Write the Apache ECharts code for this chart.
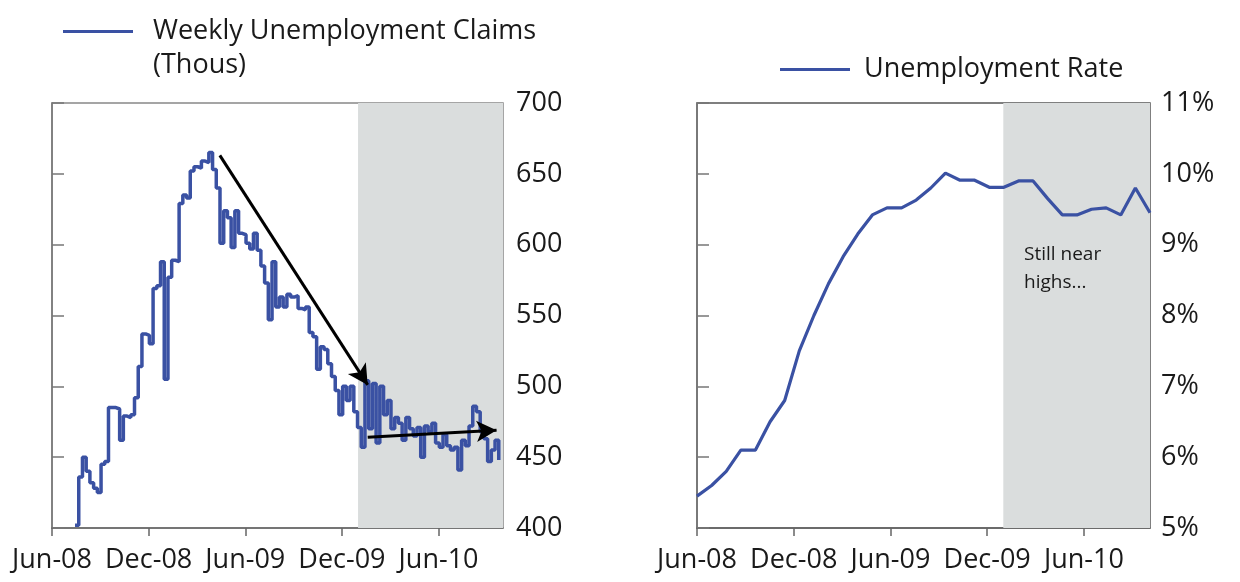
<!DOCTYPE html>
<html>
<head>
<meta charset="utf-8">
<script src="https://cdn.jsdelivr.net/npm/echarts@6/dist/echarts.min.js"></script>
<style>
html,body{margin:0;padding:0;background:#fff;}
#c{width:1240px;height:582px;}
</style>
</head>
<body>
<div id="c"></div>
<script>
// X axis: months since Jun-08
const tickLabels = ['Jun-08', 'Dec-08', 'Jun-09', 'Dec-09', 'Jun-10'];
const tickMonths = [0, 6, 12, 18, 24];
const axisMaxMonth = 28;
const shadeStartMonth = 19; // Jan-10

// Weekly unemployment claims (thousands), weekly from mid-Jul-08
const claimsStartMonth = 1.43;
const claimsWeekStep = 12 / 52;
const claims = [
  402, 436, 450, 440, 432, 428, 425, 445, 447, 485,
  485, 484, 462, 479, 478, 480, 492, 514, 537, 536,
  530, 569, 571, 588, 505, 577, 589, 588, 629, 635,
  633, 652, 655, 654, 659, 658, 665, 653, 640, 601,
  624, 619, 598, 624, 608, 607, 601, 597, 608, 596,
  585, 573, 547, 588, 556, 563, 556, 565, 563, 564,
  555, 554, 556, 538, 535, 512, 528, 526, 516, 507,
  497, 480, 500, 490, 500, 482, 471, 457, 504, 470,
  502, 460, 500, 480, 490, 470, 478, 474, 462, 478,
  470, 465, 471, 450, 472, 468, 474, 460, 457, 466,
  458, 455, 457, 441, 462, 458, 472, 486, 482, 468,
  463, 447, 455, 462, 448
];

// Unemployment rate (%), monthly
const rateSpanMonths = 28.1;
const rate = [
  5.45, 5.6, 5.8, 6.1, 6.1, 6.5, 6.8, 7.5, 8.0, 8.45,
  8.83, 9.15, 9.42, 9.52, 9.52, 9.63, 9.8, 10.01, 9.91, 9.91,
  9.81, 9.81, 9.9, 9.9, 9.65, 9.42, 9.42, 9.5, 9.52, 9.42,
  9.8, 9.45
];

// Arrow annotations on the claims chart: [month, value]
const arrowDown = [[10.42, 663], [19.6, 501]];
const arrowFlat = [[19.6, 464], [27.6, 469]];

const claimsData = claims.map((v, i) => [claimsStartMonth + i * claimsWeekStep, v]);
const rateStep = rateSpanMonths / (rate.length - 1);
const rateData = rate.map((v, i) => [i * rateStep, v]);

const FONT = 'Open Sans';
const TXT = '#1a1a1a';
const BLUE = '#3A51A3';

function xAxisCfg(gridIndex, max) {
  return {
    type: 'value', gridIndex, min: 0, max: max,
    axisLine: { show: true, lineStyle: { color: '#666', width: 1.5 } },
    axisTick: { show: true, customValues: tickMonths, length: 8, lineStyle: { color: '#666', width: 1.5 } },
    axisLabel: {
      customValues: tickMonths,
      formatter: v => tickLabels[tickMonths.indexOf(Math.round(v))] || '',
      fontFamily: FONT, fontSize: 27, color: TXT, margin: 19
    },
    splitLine: { show: false }
  };
}

const option = {
  animation: false,
  backgroundColor: '#fff',
  title: [
    { text: '(Thous)', left: 148, top: 47, textStyle: { fontFamily: FONT, fontSize: 27, fontWeight: 'normal', color: TXT } },
    { text: 'Still near\nhighs...', left: 1019, top: 236, textStyle: { fontFamily: FONT, fontSize: 19, fontWeight: 'normal', color: TXT, lineHeight: 28 } }
  ],
  legend: [
    {
      data: ['Weekly Unemployment Claims'], left: 58, top: 13, icon: 'rect', itemWidth: 70, itemHeight: 3,
      textStyle: { fontFamily: FONT, fontSize: 27, color: TXT, padding: [0, 0, 0, 15] }
    },
    {
      data: ['Unemployment Rate'], left: 775, top: 51, icon: 'rect', itemWidth: 70, itemHeight: 3,
      textStyle: { fontFamily: FONT, fontSize: 27, color: TXT, padding: [0, 0, 0, 9] }
    }
  ],
  grid: [
    { left: 52, right: 737, top: 103, bottom: 54, show: true, borderColor: '#888', borderWidth: 1.5 },
    { left: 697, right: 90, top: 103, bottom: 54, show: true, borderColor: '#555', borderWidth: 1.5 }
  ],
  xAxis: [xAxisCfg(0, axisMaxMonth), xAxisCfg(1, rateSpanMonths)],
  yAxis: [
    {
      type: 'value', gridIndex: 0, position: 'right', min: 400, max: 700, interval: 50,
      axisLine: { show: true, lineStyle: { color: '#777', width: 1.5 } },
      axisTick: { show: true, inside: false, length: 12, lineStyle: { color: '#777', width: 1.5 } },
      axisLabel: { fontFamily: FONT, fontSize: 27, color: TXT, margin: 13 },
      splitLine: { show: false }
    },
    {
      type: 'value', gridIndex: 1, position: 'right', min: 5, max: 11, interval: 1,
      axisLine: { show: true, lineStyle: { color: '#777', width: 1.5 } },
      axisTick: { show: true, inside: false, length: 12, lineStyle: { color: '#777', width: 1.5 } },
      axisLabel: { fontFamily: FONT, fontSize: 27, color: TXT, margin: 11, formatter: '{value}%' },
      splitLine: { show: false }
    }
  ],
  series: [
    {
      name: 'Weekly Unemployment Claims', type: 'line', xAxisIndex: 0, yAxisIndex: 0,
      data: claimsData, step: 'end', showSymbol: false, color: BLUE,
      lineStyle: { color: BLUE, width: 3.5 },
      markArea: {
        silent: true, itemStyle: { color: '#DADDDD' },
        data: [[{ xAxis: shadeStartMonth }, { xAxis: axisMaxMonth }]]
      },
      markLine: {
        silent: true, symbol: ['none', 'arrow'], symbolSize: [16, 20],
        lineStyle: { color: '#000', width: 3, type: 'solid' },
        label: { show: false },
        data: [
          [{ coord: arrowDown[0] }, { coord: arrowDown[1] }],
          [{ coord: arrowFlat[0] }, { coord: arrowFlat[1] }]
        ]
      }
    },
    {
      name: 'Unemployment Rate', type: 'line', xAxisIndex: 1, yAxisIndex: 1,
      data: rateData, showSymbol: false, color: BLUE,
      lineStyle: { color: BLUE, width: 3.2 },
      markArea: {
        silent: true, itemStyle: { color: '#DADDDD' },
        data: [[{ xAxis: shadeStartMonth }, { xAxis: rateSpanMonths }]]
      }
    }
  ]
};

const chart = echarts.init(document.getElementById('c'), null, { renderer: 'canvas' });
chart.setOption(option);
</script>
</body>
</html>
